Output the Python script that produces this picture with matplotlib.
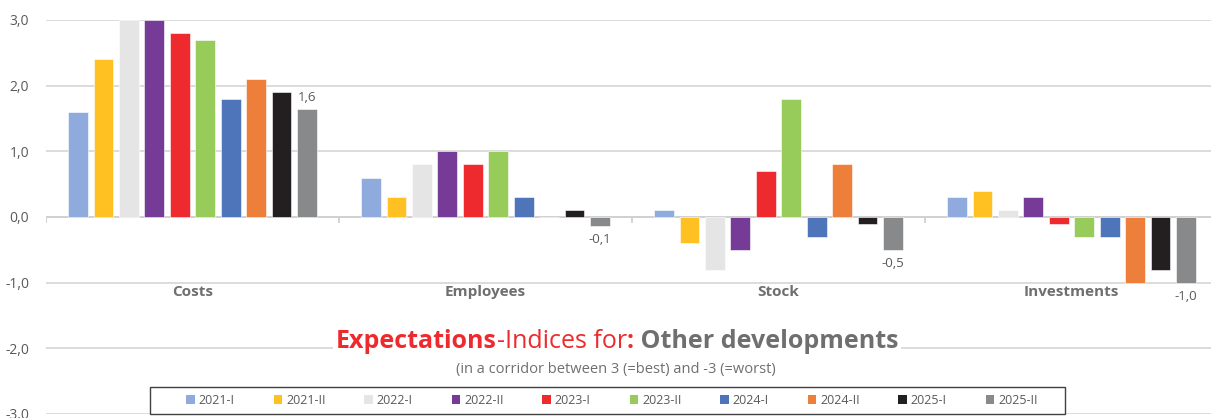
import numpy as np
import matplotlib
matplotlib.use("Agg")
from matplotlib import pyplot as plt
from matplotlib.patches import Patch, Rectangle
from matplotlib.offsetbox import TextArea, HPacker, AnnotationBbox

plt.rcParams['font.family'] = ['Open Sans', 'DejaVu Sans']

categories = ['Costs', 'Employees', 'Stock', 'Investments']
periods = ['2021-I', '2021-II', '2022-I', '2022-II', '2023-I',
           '2023-II', '2024-I', '2024-II', '2025-I', '2025-II']
colors = ['#8FAADC', '#FFC022', '#E5E5E5', '#753B96', '#EE2A2E',
          '#97CB5A', '#4E75BA', '#EE7F3A', '#231F20', '#88898B']

# one row per category, one column per period
costs = [1.6, 2.4, 3.0, 3.0, 2.8, 2.7, 1.8, 2.1, 1.9, 1.64]
employees = [0.6, 0.3, 0.8, 1.0, 0.8, 1.0, 0.3, 0.0, 0.1, -0.14]
stock = [0.1, -0.4, -0.8, -0.5, 0.7, 1.8, -0.3, 0.8, -0.1, -0.5]
investments = [0.3, 0.4, 0.1, 0.3, -0.1, -0.3, -0.3, -1.0, -0.8, -1.0]
labels_last = ['1,6', '-0,1', '-0,5', '-1,0']

values = np.array([costs, employees, stock, investments])

fig = plt.figure(figsize=(12.11, 4.18), dpi=100)
ax = fig.add_axes([46 / 1211, 1 - 414 / 418, 1172 / 1211, 394 / 418])

step = 0.0868
width = 0.068
offsets = (np.arange(len(periods)) - 4.5) * step
for j, p in enumerate(periods):
    x = np.arange(len(categories)) + 0.5 + offsets[j]
    ax.bar(x, values[:, j], width=width, color=colors[j],
           edgecolor='white', linewidth=0.4, zorder=3)

# data labels on the last series
for i, lab in enumerate(labels_last):
    v = values[i, -1]
    x = i + 0.5 + offsets[-1]
    if v >= 0:
        ax.annotate(lab, (x, v), xytext=(0, 4), textcoords='offset points',
                    ha='center', va='bottom', fontsize=9.5, color='#595959')
    else:
        ax.annotate(lab, (x, v), xytext=(0, -5), textcoords='offset points',
                    ha='center', va='top', fontsize=9.5, color='#595959')

ax.set_xlim(0, len(categories))
ax.set_ylim(-3, 3)
ax.set_yticks(np.arange(-3, 3.1, 1))
ax.set_yticklabels([f'{t:.1f}'.replace('.', ',') for t in np.arange(-3, 3.1, 1)],
                   fontsize=10, color='#595959')
ax.tick_params(axis='y', length=0, pad=12)
ax.grid(axis='y', color='#D9D9D9', linewidth=1.3, zorder=0)
for s in ax.spines.values():
    s.set_visible(False)

# category axis at zero with boundary ticks
ax.axhline(0, color='#D0D0D0', linewidth=1.3, zorder=2)
ax.set_xticks([])
for k in range(len(categories) + 1):
    ax.plot([k, k], [0, -0.07], color='#D0D0D0', linewidth=1.3, zorder=2)

for i, c in enumerate(categories):
    ax.text(i + 0.5, -1.03, c, ha='center', va='top', fontsize=11,
            fontweight='bold', color='#6F6F6F')

# title in several colours
parts = [('Expectations', '#EE2A2E', 'bold'),
         ('-Indices for', '#EE2A2E', 'normal'),
         (':', '#EE2A2E', 'bold'),
         (' Other developments', '#6F6F6F', 'bold')]
areas = [TextArea(t, textprops=dict(color=c, fontweight=w, fontsize=18))
         for t, c, w in parts]
box = HPacker(children=areas, align='baseline', pad=0, sep=0)
ab = AnnotationBbox(box, (617 / 1211, 1 - 341 / 418), xycoords='figure fraction',
                    frameon=True, pad=0.2, box_alignment=(0.5, 0.5),
                    bboxprops=dict(facecolor='white', edgecolor='none'))
fig.add_artist(ab)
fig.text(616 / 1211, 1 - 369 / 418, '(in a corridor between 3 (=best) and -3 (=worst)',
         ha='center', va='center', fontsize=10.5, color='#6F6F6F')

# legend box drawn separately, items centred inside
fig.add_artist(Rectangle((150 / 1211, 1 - 414 / 418), 915 / 1211, 27 / 418,
                         transform=fig.transFigure, facecolor='white',
                         edgecolor='#404040', linewidth=1.0, zorder=4))
handles = [Patch(facecolor=c, edgecolor='none') for c in colors]
leg = fig.legend(handles, periods, ncol=len(periods),
                 loc='center', bbox_to_anchor=(612 / 1211, 1 - 400 / 418),
                 fontsize=9, frameon=False, handlelength=0.7, handleheight=0.7,
                 handletextpad=0.3, columnspacing=3.1, borderaxespad=0)
leg.set_zorder(5)
for t in leg.get_texts():
    t.set_color('#595959')

fig.savefig('out.png', dpi=100)
